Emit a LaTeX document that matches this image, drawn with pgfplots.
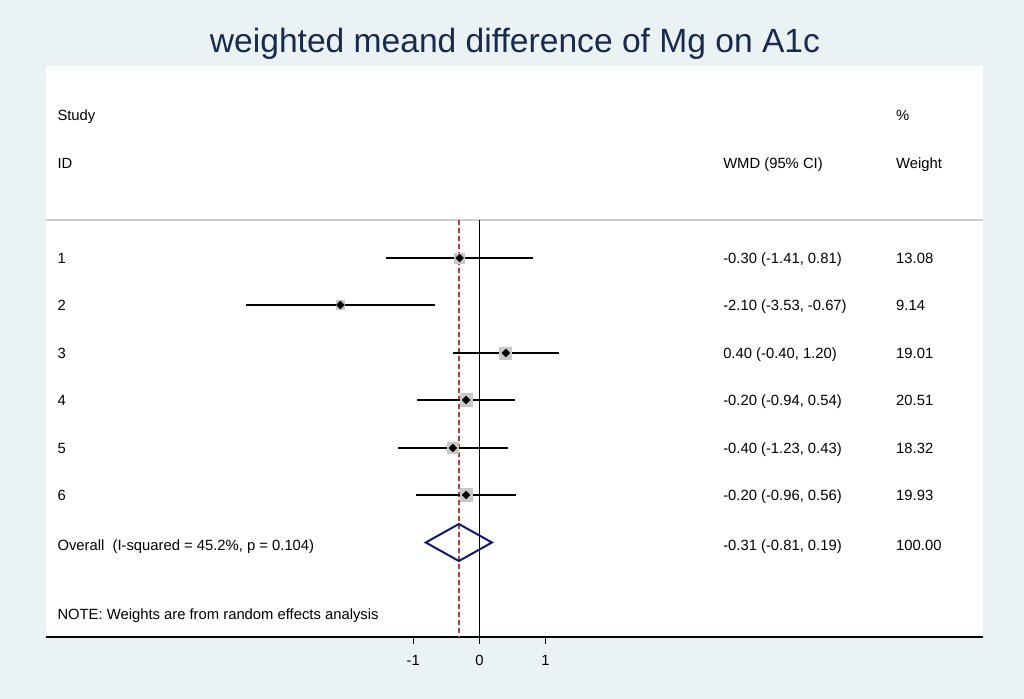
\documentclass[border=0pt]{standalone}
\usepackage{pgfplots}
\pgfplotsset{compat=1.18}
\usepackage{pgfplotstable}
\usepackage{fontspec}
\setmainfont{Liberation Sans}
\definecolor{bg}{RGB}{234,242,243}
\definecolor{ttl}{RGB}{26,42,76}
\definecolor{dia}{RGB}{16,24,120}
\definecolor{refred}{RGB}{190,60,60}
\definecolor{boxg}{RGB}{200,200,200}
\definecolor{sepg}{RGB}{205,205,205}
\newcommand\fs{\fontsize{7.4}{9}\selectfont}

\pgfplotstableread{
y est lo hi w
258 -0.30 -1.41 0.81 13.08
305 -2.10 -3.53 -0.67 9.14
353 0.40 -0.40 1.20 19.01
400 -0.20 -0.94 0.54 20.51
448 -0.40 -1.23 0.43 18.32
495 -0.20 -0.96 0.56 19.93
}\studies

\begin{document}
\begin{tikzpicture}[x=0.5pt,y=-0.5pt, every node/.append style={font=\fs}]
\fill[bg] (0,0) rectangle (1024,699);
\node[text=ttl, font=\fontsize{16.8}{19}\selectfont] at (515,44) {weighted meand difference of Mg on A1c};
\begin{axis}[
  at={(47,637)}, anchor=south west, xshift=7.5pt,
  scale only axis, width=468.5pt, height=285.5pt,
  xmin=-6.545, xmax=7.609, ymin=66, ymax=637, y dir=reverse,
  axis background/.style={fill=white},
  hide y axis,
  axis x line*=bottom,
  x axis line style={line width=0.6pt, black},
  xtick={-1,0,1}, xticklabels={-1,0,1},
  tick align=outside, major tick length=3.5pt,
  tick style={line width=0.6pt, black},
  xticklabel style={font=\fs, yshift=-2pt},
  clip=false,
]
% separator
\addplot[sepg, line width=0.6pt] coordinates {(-6.545,220) (7.609,220)};
% reference lines
\addplot[black, line width=0.85pt] coordinates {(0,220) (0,637)};
\addplot[refred, line width=0.7pt, dash pattern=on 2.5pt off 1.5pt] coordinates {(-0.31,220) (-0.31,637)};
% weight boxes
\addplot[scatter, only marks, mark=square*,
  scatter/use mapped color={draw=boxg, fill=boxg},
  visualization depends on={0.688*sqrt(\thisrow{w}) \as \msz},
  scatter/@pre marker code/.append style={/tikz/mark size=\msz}]
  table[x=est, y=y] {\studies};
% CIs and point estimates
\addplot[black, only marks, mark=square*, mark size=1.3pt, mark options={rotate=45},
  error bars/.cd, x dir=both, x explicit, error mark=none,
  error bar style={line width=1.25pt, black}]
  table[x=est, y=y, x error plus expr=\thisrow{hi}-\thisrow{est}, x error minus expr=\thisrow{est}-\thisrow{lo}] {\studies};
% overall diamond
\addplot[dia, line width=1pt, line join=miter] coordinates {(-0.81,542.5) (-0.31,524) (0.19,542.5) (-0.31,561) (-0.81,542.5)} -- cycle;

% text columns
\node[anchor=base west, inner sep=0pt] at (axis cs:-6.379,120.3) {Study};
\node[anchor=base west, inner sep=0pt] at (axis cs:6.291,120.3) {\%};
\node[anchor=base west, inner sep=0pt] at (axis cs:-6.379,168.3) {ID};
\node[anchor=base west, inner sep=0pt] at (axis cs:3.678,168.3) {WMD (95\% CI)};
\node[anchor=base west, inner sep=0pt] at (axis cs:6.291,168.3) {Weight};

\node[anchor=base west, inner sep=0pt] at (axis cs:-6.379,263.3) {1};
\node[anchor=base west, inner sep=0pt] at (axis cs:-6.379,310.3) {2};
\node[anchor=base west, inner sep=0pt] at (axis cs:-6.379,358.3) {3};
\node[anchor=base west, inner sep=0pt] at (axis cs:-6.379,405.3) {4};
\node[anchor=base west, inner sep=0pt] at (axis cs:-6.379,453.3) {5};
\node[anchor=base west, inner sep=0pt] at (axis cs:-6.379,500.3) {6};
\node[anchor=base west, inner sep=0pt] at (axis cs:-6.379,550.3) {Overall\ \ (I-squared = 45.2\%, p = 0.104)};
\node[anchor=base west, inner sep=0pt] at (axis cs:-6.379,619.3) {NOTE: Weights are from random effects analysis};

\node[anchor=base west, inner sep=0pt] at (axis cs:3.678,263.3) {-0.30 (-1.41, 0.81)};
\node[anchor=base west, inner sep=0pt] at (axis cs:3.678,310.3) {-2.10 (-3.53, -0.67)};
\node[anchor=base west, inner sep=0pt] at (axis cs:3.678,358.3) {0.40 (-0.40, 1.20)};
\node[anchor=base west, inner sep=0pt] at (axis cs:3.678,405.3) {-0.20 (-0.94, 0.54)};
\node[anchor=base west, inner sep=0pt] at (axis cs:3.678,453.3) {-0.40 (-1.23, 0.43)};
\node[anchor=base west, inner sep=0pt] at (axis cs:3.678,500.3) {-0.20 (-0.96, 0.56)};
\node[anchor=base west, inner sep=0pt] at (axis cs:3.678,550.3) {-0.31 (-0.81, 0.19)};

\node[anchor=base west, inner sep=0pt] at (axis cs:6.291,263.3) {13.08};
\node[anchor=base west, inner sep=0pt] at (axis cs:6.291,310.3) {9.14};
\node[anchor=base west, inner sep=0pt] at (axis cs:6.291,358.3) {19.01};
\node[anchor=base west, inner sep=0pt] at (axis cs:6.291,405.3) {20.51};
\node[anchor=base west, inner sep=0pt] at (axis cs:6.291,453.3) {18.32};
\node[anchor=base west, inner sep=0pt] at (axis cs:6.291,500.3) {19.93};
\node[anchor=base west, inner sep=0pt] at (axis cs:6.291,550.3) {100.00};
\end{axis}
\end{tikzpicture}
\end{document}
